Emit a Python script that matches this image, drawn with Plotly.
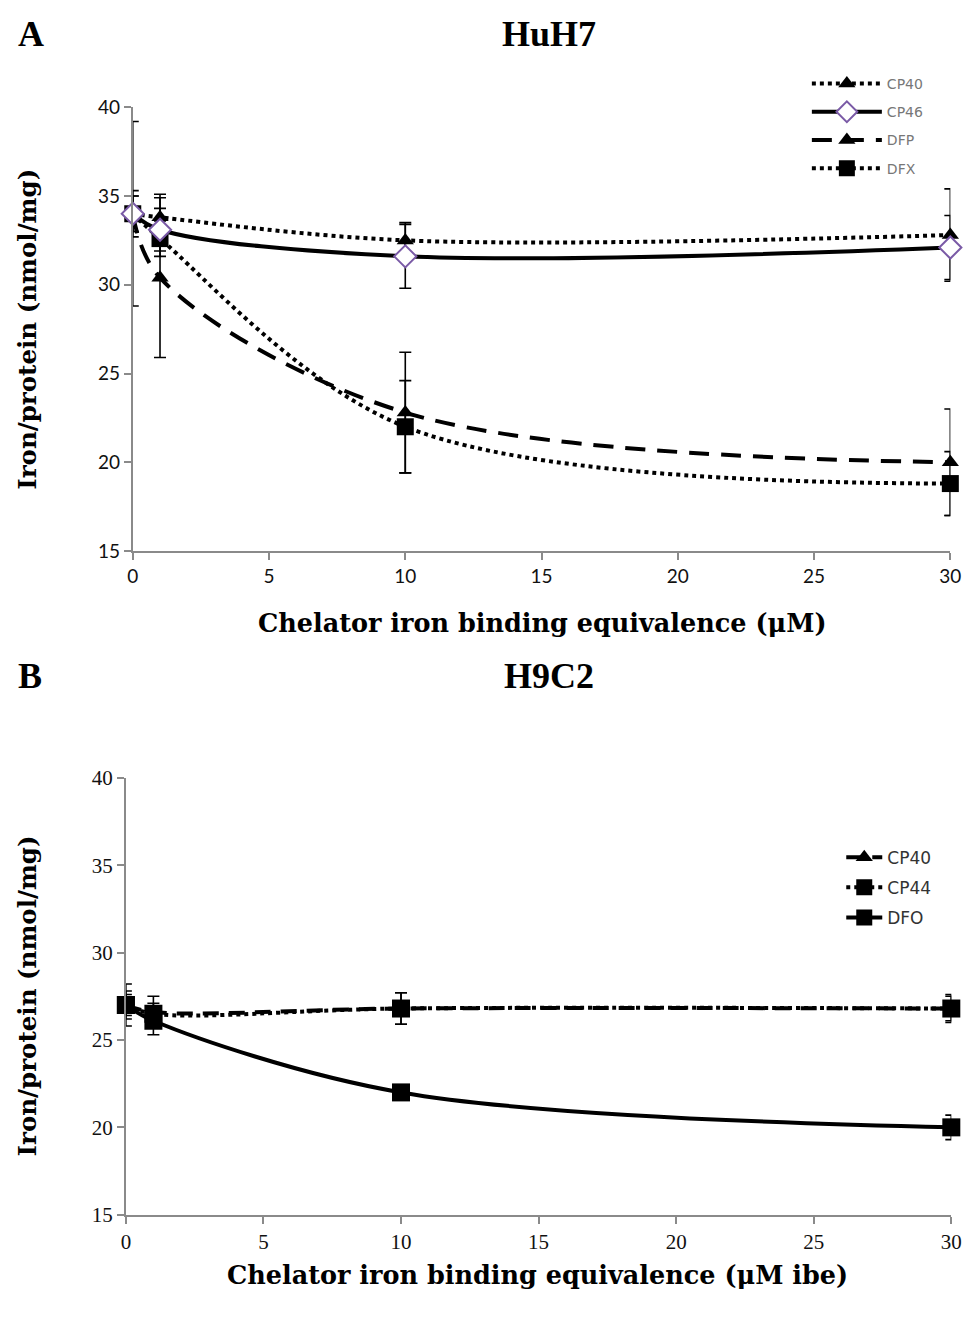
import plotly.graph_objects as go

W, H = 980, 1321

# ---------------- data ----------------
x_vals = [0, 1, 10, 30]

# Panel A (HuH7)
a_cp40 = [34.0, 33.8, 32.5, 32.8]
a_cp40_err = [1.3, 1.3, 1.0, 2.6]
a_cp46 = [34.0, 33.1, 31.6, 32.1]
a_cp46_err = [1.0, 1.2, 1.8, 1.8]
a_dfp = [34.0, 30.4, 22.8, 20.0]
a_dfp_err = [5.2, 4.5, 3.4, 3.0]
a_dfx = [34.0, 32.6, 22.0, 18.8]
a_dfx_err = [1.0, 1.0, 2.6, 1.8]

# Panel B (H9C2)
b_cp40 = [27.0, 26.6, 26.8, 26.8]
b_cp40_err = [0.8, 0.9, 0.9, 0.7]
b_cp44 = [27.0, 26.5, 26.8, 26.8]
b_cp44_err = [0.6, 0.6, 0.9, 0.8]
b_dfo = [27.0, 26.1, 22.0, 20.0]
b_dfo_err = [1.2, 0.8, 0.3, 0.7]

y_ticks = [15, 20, 25, 30, 35, 40]
x_ticks = [0, 5, 10, 15, 20, 25, 30]


def px_x(p):
    return p / W


def px_y(p):
    return 1 - p / H


fig = go.Figure()


def add(xa, ya, y, err, name, dash, symbol, msize, legend, rank,
        mcolor="black", mline=None, lw=4):
    fig.add_trace(go.Scatter(
        x=x_vals, y=y, name=name, xaxis=xa, yaxis=ya,
        mode="lines+markers",
        line=dict(color="black", width=lw, dash=dash, shape="spline", smoothing=1),
        marker=dict(symbol=symbol, size=msize, color=mcolor,
                    line=mline or dict(width=0)),
        error_y=dict(type="data", array=err, visible=True, color="black",
                     thickness=1.6, width=6),
        cliponaxis=False, legend=legend, legendgroup=name + legend,
        legendrank=rank,
    ))


# Panel A traces (draw order: DFP, DFX, CP40, CP46)
add("x", "y", a_dfp, a_dfp_err, "DFP", "20px,12px", "triangle-up", 15, "legend", 3)
add("x", "y", a_dfx, a_dfx_err, "DFX", "dot", "square", 17, "legend", 4)
add("x", "y", a_cp40, a_cp40_err, "CP40", "dot", "triangle-up", 15, "legend", 1)
add("x", "y", a_cp46, a_cp46_err, "CP46", "solid", "diamond", 17, "legend", 2,
    mcolor="white", mline=dict(color="#7a5aa6", width=2))

# Panel B traces
add("x2", "y2", b_dfo, b_dfo_err, "DFO", "solid", "square", 18, "legend2", 3)
add("x2", "y2", b_cp40, b_cp40_err, "CP40", "16px,10px", "triangle-up", 15, "legend2", 1)
add("x2", "y2", b_cp44, b_cp44_err, "CP44", "dot", "square", 18, "legend2", 2)

axis_common = dict(showgrid=False, zeroline=False, showline=True,
                   linecolor="#8a8a8a", linewidth=2, ticks="outside",
                   tickcolor="#8a8a8a", ticklen=7, tickwidth=2)

sans_tick = dict(family="Lato, Open Sans, sans-serif", size=19, color="#111")
serif_tick = dict(family="Liberation Serif, serif", size=21, color="#111")

fig.update_layout(
    width=W, height=H, margin=dict(l=0, r=0, t=0, b=0),
    paper_bgcolor="white", plot_bgcolor="white",
    xaxis=dict(domain=[px_x(129), px_x(961)], range=[0, 30], tickvals=x_ticks,
               anchor="y", tickfont=sans_tick, **axis_common),
    yaxis=dict(domain=[px_y(549), px_y(97)], range=[15, 40], tickvals=y_ticks,
               anchor="x", tickfont=sans_tick, **axis_common),
    xaxis2=dict(domain=[px_x(122), px_x(962)], range=[0, 30], tickvals=x_ticks,
                anchor="y2", tickfont=serif_tick, **axis_common),
    yaxis2=dict(domain=[px_y(1225), px_y(780)], range=[15, 40], tickvals=y_ticks,
                anchor="x2", tickfont=serif_tick, **axis_common),
    legend=dict(x=px_x(815), y=px_y(57), xanchor="left", yanchor="top",
                font=dict(family="DejaVu Sans, Verdana, sans-serif", size=14, color="#777"),
                bgcolor="rgba(0,0,0,0)", tracegroupgap=7, traceorder="grouped",
                itemwidth=70),
    legend2=dict(x=px_x(850), y=px_y(843), xanchor="left", yanchor="top",
                 font=dict(family="DejaVu Sans, sans-serif", size=17, color="#333"),
                 bgcolor="rgba(0,0,0,0)", tracegroupgap=5, traceorder="grouped",
                 itemwidth=36),
)

title_font = dict(family="Liberation Serif, serif", size=36, color="black")
x_title_font = dict(family="DejaVu Serif, serif", size=25.5, color="black")
y_title_font = dict(family="DejaVu Serif, serif", size=24.5, color="black")

annots = [
    dict(text="<b>A</b>", x=px_x(10), y=px_y(22), xanchor="left", font=title_font),
    dict(text="<b>HuH7</b>", x=px_x(553), y=px_y(22), xanchor="center", font=title_font),
    dict(text="<b>B</b>", x=px_x(10), y=px_y(676), xanchor="left", font=title_font),
    dict(text="<b>H9C2</b>", x=px_x(553), y=px_y(676), xanchor="center", font=title_font),
    dict(text="<b>Chelator iron binding equivalence (μM)</b>", x=px_x(545), y=px_y(622),
         xanchor="center", font=x_title_font),
    dict(text="<b>Chelator iron binding equivalence (μM ibe)</b>", x=px_x(541), y=px_y(1286),
         xanchor="center", font=x_title_font),
    dict(text="<b>Iron/protein (nmol/mg)</b>", x=px_x(22), y=px_y(323),
         xanchor="center", textangle=-90, font=y_title_font),
    dict(text="<b>Iron/protein (nmol/mg)</b>", x=px_x(22), y=px_y(1002),
         xanchor="center", textangle=-90, font=y_title_font),
]
for a in annots:
    a.update(xref="paper", yref="paper", yanchor="middle", showarrow=False)
    fig.add_annotation(**a)

fig.write_html("out.html")
